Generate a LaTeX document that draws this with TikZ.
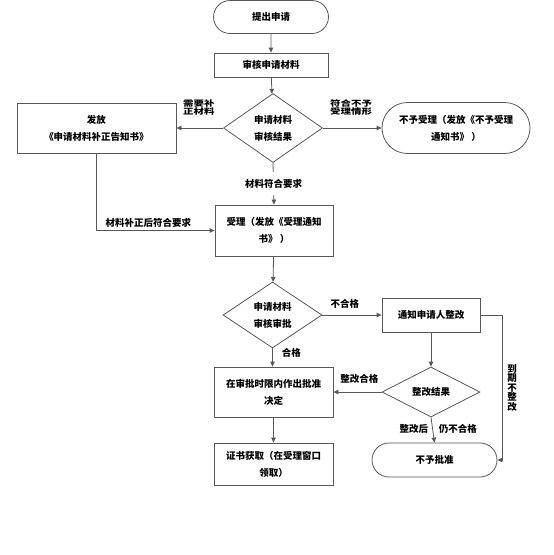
\documentclass[tikz,border=0pt]{standalone}
\usepackage{fontspec}
\setmainfont{Noto Sans CJK SC}
\usetikzlibrary{shapes.geometric,shapes.misc,arrows.meta}

\begin{document}
\begin{tikzpicture}[x=1pt, y=-1pt,
    every node/.style={font=\bfseries\fontsize{9.5}{17}\selectfont, align=center, inner sep=0pt},
    box/.style={draw=black!65, line width=0.8pt, rectangle},
    term/.style={draw=black!65, line width=0.8pt, rounded rectangle},
    dia/.style={draw=black!65, line width=0.8pt, diamond},
    flow/.style={draw=black!65, line width=0.8pt, -{Triangle[length=5pt,width=4.5pt]}},
    lbl/.style={font=\bfseries\fontsize{10.5}{11}\selectfont, yscale=0.75, transform shape}]
  \useasboundingbox (0,0) rectangle (554,555);

  \node[term, minimum width=115pt, minimum height=33pt] (start) at (271,17) {提出申请};
  \node[box, minimum width=114pt, minimum height=24pt] (check) at (271,65) {审核申请材料};
  \node[dia, minimum width=99pt, minimum height=69pt] (res1) at (273,128) {申请材料\\审核结果};
  \node[box, minimum width=159pt, minimum height=50pt] (supp) at (96.5,128) {发放\\《申请材料补正告知书》};
  \node[term, minimum width=148pt, minimum height=51pt] (reject) at (456,128) {不予受理（发放《不予受理\\通知书》 ）};
  \node[box, minimum width=118pt, minimum height=51pt] (accept) at (274,230.5) {受理（发放《受理通知\\书》 ）};
  \node[dia, minimum width=99pt, minimum height=66pt] (res2) at (272.5,315) {申请材料\\审核审批};
  \node[box, minimum width=98pt, minimum height=34pt] (notify) at (431,315) {通知申请人整改};
  \node[box, minimum width=119pt, minimum height=50pt] (decide) at (273.5,392) {在审批时限内作出批准\\决定};
  \node[dia, minimum width=98pt, minimum height=50pt] (res3) at (431,392) {整改结果};
  \node[box, minimum width=119pt, minimum height=42pt] (cert) at (273.5,464) {证书获取（在受理窗口\\领取）};
  \node[term, minimum width=125pt, minimum height=34pt] (deny) at (434.5,460) {不予批准};
  \coordinate (rturn) at (502,315);

  \draw[flow] (start) -- (check);
  \draw[flow] (check) -- (res1);
  \draw[flow] (res1.west) -- node[lbl, above=16pt, pos=0.52] {需要补\\正材料} (supp.east);
  \draw[flow] (res1.east) -- node[lbl, above=16pt, pos=0.48] {符合不予\\受理情形} (reject.west);
  \draw[flow] (res1.south) -- node[fill=white, inner ysep=7pt, inner xsep=1pt] {材料符合要求} (accept.north);
  \draw[flow] (supp.south) |- node[above=3pt, pos=0.72] {材料补正后符合要求} (accept.west);
  \draw[flow] (accept) -- (res2);
  \draw[flow] (res2.east) -- node[above=6pt, pos=0.38] {不合格} (notify.west);
  \draw[flow] (res2.south) -- node[right=9pt, pos=0.25] {合格} (res2.south |- decide.north);
  \draw[flow] (notify) -- (res3);
  \draw[flow] (res3.west) -- node[above=8pt, pos=0.46] {整改合格} (decide.east);
  \draw[flow] (res3.south) -- node[left=4pt, pos=0.45] {整改后} node[right=6pt, pos=0.45] {仍不合格} (deny.north);
  \draw[flow] (notify.east) -- (rturn) |- node[right=5pt, pos=0.25, font=\bfseries\fontsize{9.5}{9.5}\selectfont] {到\\期\\不\\整\\改} (deny.east);
  \draw[flow] (decide) -- (cert);
\end{tikzpicture}
\end{document}
